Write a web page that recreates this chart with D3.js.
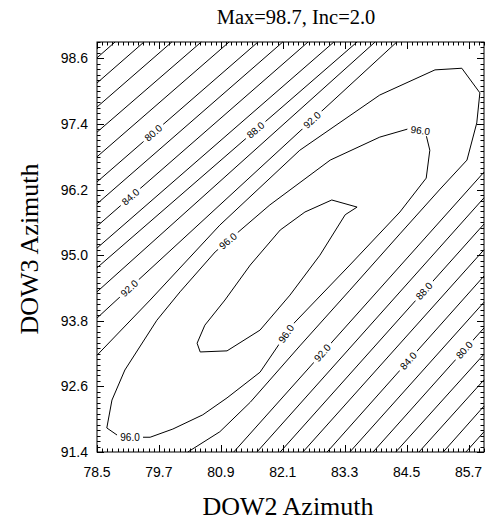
<!DOCTYPE html>
<html><head><meta charset="utf-8">
<script src="https://cdn.jsdelivr.net/npm/d3@7"></script>
<style>body{margin:0;background:#fff}</style>
</head><body>
<svg id="chart" width="487" height="521"></svg>
<script>
const titleText = "Max=98.7, Inc=2.0";
const xTitle = "DOW2 Azimuth";
const yTitle = "DOW3 Azimuth";
const xDomain = [78.5, 86.0];
const yDomain = [91.4, 98.9];
const xTickValues = [78.5, 79.7, 80.9, 82.1, 83.3, 84.5, 85.7];
const yTickValues = [91.4, 92.6, 93.8, 95.0, 96.2, 97.4, 98.6];
const minorStep = 0.1;

// contour levels and their polylines [DOW2, DOW3]
const contourLevels = [70,72,74,76,78,80,82,84,86,88,90,92, 94, 96, 98, 92,90,88,86,84,82,80,78,76,74,72];
const contourPoints = [
  [[78.5,98.61],[78.85,98.9]],
  [[78.5,98.15],[79.41,98.9]],
  [[78.5,97.71],[79.95,98.9]],
  [[78.5,97.25],[80.52,98.9]],
  [[78.5,96.80],[81.06,98.9]],
  [[78.5,96.34],[81.62,98.9]],
  [[78.5,95.94],[82.10,98.9]],
  [[78.5,95.53],[82.59,98.9]],
  [[78.5,95.13],[83.09,98.9]],
  [[78.5,94.77],[83.54,98.9]],
  [[78.5,94.33],[83.89,98.9]],
  [[78.5,93.85],[84.31,98.9]],
  [[78.5,93.17],[79.53,94.18],[80.88,95.55],[82.43,96.92],[83.98,97.93],[85.05,98.39],[85.57,98.42],[85.92,97.97],[85.86,97.42],[85.67,96.74],[85.15,96.21],[84.37,95.39],[83.4,94.36],[82.43,93.34],[81.47,92.31],[80.88,91.77],[80.26,91.4]],
  [[78.69,91.84],[78.79,92.35],[79.04,92.9],[79.66,93.81],[80.11,94.33],[80.79,95.06],[81.85,95.92],[83.02,96.74],[83.98,97.16],[84.53,97.31],[84.86,97.27],[84.95,96.92],[84.88,96.41],[84.37,95.79],[83.4,94.82],[82.28,93.72],[81.66,92.86],[81.02,92.39],[80.55,92.08],[79.97,91.82],[79.53,91.67],[78.95,91.67],[78.69,91.84]],
  [[80.44,93.39],[80.5,93.23],[81.02,93.25],[81.66,93.63],[82.24,94.27],[82.82,95.0],[83.31,95.74],[83.54,95.88],[83.05,96.01],[82.53,95.79],[82.05,95.46],[81.47,94.82],[80.98,94.18],[80.59,93.72],[80.44,93.39]],
  [[81.15,91.4],[86.0,96.52]],
  [[81.60,91.4],[86.0,96.05]],
  [[82.05,91.4],[86.0,95.57]],
  [[82.49,91.4],[86.0,95.10]],
  [[82.96,91.4],[86.0,94.62]],
  [[83.40,91.4],[86.0,94.14]],
  [[83.85,91.4],[86.0,93.67]],
  [[84.29,91.4],[86.0,93.19]],
  [[84.74,91.4],[86.0,92.72]],
  [[85.21,91.4],[86.0,92.24]],
  [[85.65,91.4],[86.0,91.77]]
];

// contour labels: level and approximate position [DOW2, DOW3]
const labelLevels = [80, 84, 88, 92, 92, 96, 96, 96, 96, 92, 84, 88, 80];
const labelPositions = [
  [79.59,97.24],[79.08,96.14],[81.52,97.35],[79.1,94.42],[82.63,97.51],[81.02,95.28],[84.76,97.24],[79.14,91.66],[82.34,93.45],[82.98,93.12],[84.47,93.12],[84.86,94.33],[85.4,93.45]
];

const svg = d3.select("#chart");
const W = 487, H = 521;
const margin = {left: 97, top: 42, right: 3, bottom: 69};
const x = d3.scaleLinear().domain(xDomain).range([margin.left, W - margin.right]);
const y = d3.scaleLinear().domain(yDomain).range([H - margin.bottom, margin.top]);

const tickFont = "'Liberation Sans', Arial, sans-serif";
const serif = "'Liberation Serif', 'Times New Roman', serif";

// contours
const gC = svg.append("g");
const line = d3.line().x(d => x(d[0])).y(d => y(d[1]));
contourPoints.forEach(pts => {
  gC.append("path").attr("d", line(pts)).attr("fill", "none")
    .attr("stroke", "#000").attr("stroke-width", 1);
});

// labels
const gL = svg.append("g");
labelPositions.forEach((p, i) => {
  const lev = labelLevels[i];
  let best = null, bestD = Infinity;
  contourPoints.forEach((pts, j) => {
    if (contourLevels[j] !== lev) return;
    for (let k = 0; k < pts.length - 1; k++) {
      const ax = x(pts[k][0]), ay = y(pts[k][1]), bx = x(pts[k+1][0]), by = y(pts[k+1][1]);
      const px = x(p[0]), py = y(p[1]);
      const dx = bx - ax, dy = by - ay;
      let t = ((px - ax) * dx + (py - ay) * dy) / (dx * dx + dy * dy);
      t = Math.max(0, Math.min(1, t));
      const qx = ax + t * dx, qy = ay + t * dy;
      const d = Math.hypot(px - qx, py - qy);
      if (d < bestD) { bestD = d; best = {qx, qy, ang: Math.atan2(dy, dx) * 180 / Math.PI}; }
    }
  });
  if (!best) return;
  let ang = best.ang;
  if (ang > 90) ang -= 180;
  if (ang < -90) ang += 180;
  const g = gL.append("g").attr("transform", `translate(${best.qx},${best.qy}) rotate(${ang})`);
  g.append("rect").attr("x", -13).attr("y", -5).attr("width", 26).attr("height", 10).attr("fill", "#fff");
  g.append("text").text(lev.toFixed(1)).attr("text-anchor", "middle").attr("dy", "0.35em")
    .attr("font-family", tickFont).attr("font-size", 10).attr("fill", "#000");
});

// frame
const x0 = x(xDomain[0]), x1 = x(xDomain[1]), y0 = y(yDomain[0]), y1 = y(yDomain[1]);
svg.append("rect").attr("x", x0).attr("y", y1).attr("width", x1 - x0).attr("height", y0 - y1)
  .attr("fill", "none").attr("stroke", "#000").attr("stroke-width", 1);

// ticks (inward, all four sides)
const minorX = d3.range(Math.round((xDomain[1]-xDomain[0]) / minorStep) + 1).map(i => xDomain[0] + i * minorStep);
const minorY = d3.range(Math.round((yDomain[1]-yDomain[0]) / minorStep) + 1).map(i => yDomain[0] + i * minorStep);
const gT = svg.append("g").attr("stroke", "#000").attr("stroke-width", 1);
const isMajor = (v, arr) => arr.some(t => Math.abs(t - v) < 1e-6);
minorX.forEach(v => {
  const L = isMajor(v, xTickValues) ? 7 : 3.5;
  const px = Math.round(x(v)) + 0.5;
  gT.append("line").attr("x1", px).attr("x2", px).attr("y1", y0).attr("y2", y0 - L);
  gT.append("line").attr("x1", px).attr("x2", px).attr("y1", y1).attr("y2", y1 + L);
});
minorY.forEach(v => {
  const L = isMajor(v, yTickValues) ? 7 : 3.5;
  const py = Math.round(y(v)) + 0.5;
  gT.append("line").attr("y1", py).attr("y2", py).attr("x1", x0).attr("x2", x0 + L);
  gT.append("line").attr("y1", py).attr("y2", py).attr("x1", x1).attr("x2", x1 - L);
});

// tick labels
xTickValues.forEach(v => {
  svg.append("text").text(v.toFixed(1)).attr("x", x(v)).attr("y", y0 + 25)
    .attr("text-anchor", "middle").attr("font-family", tickFont).attr("font-size", 14);
});
yTickValues.forEach(v => {
  svg.append("text").text(v.toFixed(1)).attr("x", x0 - 9).attr("y", y(v) + 5)
    .attr("text-anchor", "end").attr("font-family", tickFont).attr("font-size", 14);
});

// titles
svg.append("text").text(titleText).attr("x", 296).attr("y", 24).attr("text-anchor", "middle")
  .attr("font-family", serif).attr("font-size", 20.5);
svg.append("text").text(xTitle).attr("x", 288).attr("y", 515).attr("text-anchor", "middle")
  .attr("font-family", serif).attr("font-size", 26);
svg.append("text").text(yTitle).attr("transform", "translate(38,249) rotate(-90)").attr("text-anchor", "middle")
  .attr("font-family", serif).attr("font-size", 26);
</script>
</body></html>
